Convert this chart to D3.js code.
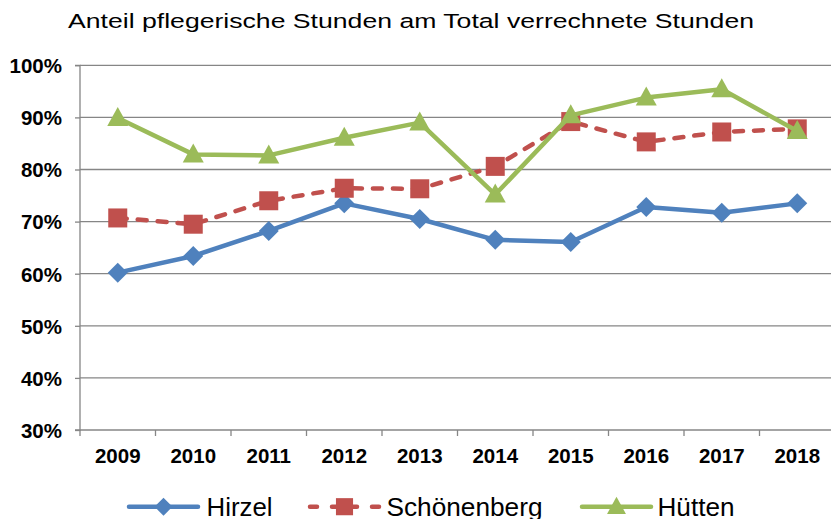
<!DOCTYPE html>
<html><head><meta charset="utf-8">
<script src="https://cdn.jsdelivr.net/npm/d3@7"></script>
<style>body{margin:0;background:#fff;}svg{display:block;font-family:"Liberation Sans",Arial,sans-serif;}</style>
</head><body>
<svg id="c" width="831" height="519"></svg>
<script>
const years = ["2009","2010","2011","2012","2013","2014","2015","2016","2017","2018"];
const hirzel = [60.2, 63.4, 68.2, 73.5, 70.5, 66.5, 66.1, 72.8, 71.7, 73.5];
const schoenenberg = [70.7, 69.5, 74.0, 76.4, 76.3, 80.6, 89.2, 85.3, 87.2, 87.8];
const huetten = [89.9, 82.9, 82.7, 86.1, 89.0, 75.2, 90.4, 93.8, 95.4, 87.4];
const yTicks = [30, 40, 50, 60, 70, 80, 90, 100];
const seriesNames = ["Hirzel", "Schönenberg", "Hütten"];

const svg = d3.select("#c");
const L = 80, R = 835, T = 65.3, B = 430;
const x = d3.scaleBand().domain(years).range([L, R]);
const y = d3.scaleLinear().domain([30, 100]).range([B, T]);

svg.append("text").attr("x", 68).attr("y", 27.5)
  .attr("font-size", 20.5).attr("fill", "#000")
  .attr("textLength", 686).attr("lengthAdjust", "spacingAndGlyphs")
  .text("Anteil pflegerische Stunden am Total verrechnete Stunden");

// gridlines
svg.append("g").selectAll("line").data(yTicks.filter(d => d > 30)).join("line")
  .attr("x1", L).attr("x2", R).attr("y1", d => y(d)).attr("y2", d => y(d))
  .attr("stroke", "#868686").attr("stroke-width", 1.3);

// y axis
const ya = svg.append("g").attr("transform", `translate(${L},0)`)
  .call(d3.axisLeft(y).tickValues(yTicks).tickFormat(d => d + "%").tickSize(5).tickPadding(13));
ya.select(".domain").attr("stroke", "#868686").attr("stroke-width", 1.3).attr("d", `M-5,${T}H0V${B}H-5`);
ya.selectAll(".tick line").attr("stroke", "#868686").attr("stroke-width", 1.3);
ya.selectAll("text").attr("font-size", 20.5).attr("font-weight", "bold").attr("fill", "#000")
  .attr("font-family", "Liberation Sans, Arial, sans-serif").attr("dy", "0.36em");

// x axis
const xa = svg.append("g").attr("transform", `translate(0,${B})`)
  .call(d3.axisBottom(x).tickSize(0).tickPadding(18.5));
xa.select(".domain").attr("stroke", "#868686").attr("stroke-width", 1.3).attr("d", `M${L},0H${R}`);
xa.selectAll("text").attr("font-size", 20.5).attr("font-weight", "bold").attr("fill", "#000")
  .attr("font-family", "Liberation Sans, Arial, sans-serif");
// x ticks at band boundaries
svg.append("g").selectAll("line").data(years).join("line")
  .attr("x1", d => x(d)).attr("x2", d => x(d)).attr("y1", B).attr("y2", B + 6)
  .attr("stroke", "#868686").attr("stroke-width", 1.3);

const cx = d => x(d) + x.bandwidth() / 2;
const colors = ["#4F81BD", "#C0504D", "#9BBB59"];
const data = [hirzel, schoenenberg, huetten];
const line = d3.line().x((d, i) => cx(years[i])).y(d => y(d));

function marker(g, type, color, px, py, s) {
  s = s || 1;
  if (type === 0) {
    const r = 10 * s;
    g.append("path").attr("d", `M${px},${py-r}L${px+r},${py}L${px},${py+r}L${px-r},${py}Z`).attr("fill", color);
  } else if (type === 1) {
    const h = 9.5 * s;
    g.append("rect").attr("x", px - h).attr("y", py - h).attr("width", 2 * h).attr("height", 2 * h).attr("fill", color);
  } else {
    g.append("path").attr("d", `M${px},${py-11*s}L${px+10.5*s},${py+8*s}L${px-10.5*s},${py+8*s}Z`).attr("fill", color);
  }
}

data.forEach((vals, si) => {
  const g = svg.append("g");
  g.append("path").attr("d", line(vals)).attr("fill", "none").attr("stroke", colors[si])
    .attr("stroke-width", 4.5).attr("stroke-linecap", "round").attr("stroke-linejoin", "round")
    .attr("stroke-dasharray", si === 1 ? "9 11" : null);
  vals.forEach((v, i) => marker(g, si, colors[si], cx(years[i]), y(v)));
});

// legend
const leg = [{lx: 129, tx: 206.5, tw: 66}, {lx: 310, tx: 386.5, tw: 156}, {lx: 582, tx: 657.5, tw: 77}];
leg.forEach((p, si) => {
  const g = svg.append("g");
  const ly = 506.7;
  g.append("line").attr("x1", p.lx).attr("x2", p.lx + 69).attr("y1", ly).attr("y2", ly)
    .attr("stroke", colors[si]).attr("stroke-width", 4.5).attr("stroke-linecap", "round")
    .attr("stroke-dasharray", si === 1 ? "7 15 25 15 7" : null);
  marker(g, si, colors[si], p.lx + 34.5, ly, 0.9);
  g.append("text").attr("x", p.tx).attr("y", 516).attr("font-size", 26).attr("fill", "#000")
    .attr("textLength", p.tw).attr("lengthAdjust", "spacingAndGlyphs").text(seriesNames[si]);
});
</script>
</body></html>
